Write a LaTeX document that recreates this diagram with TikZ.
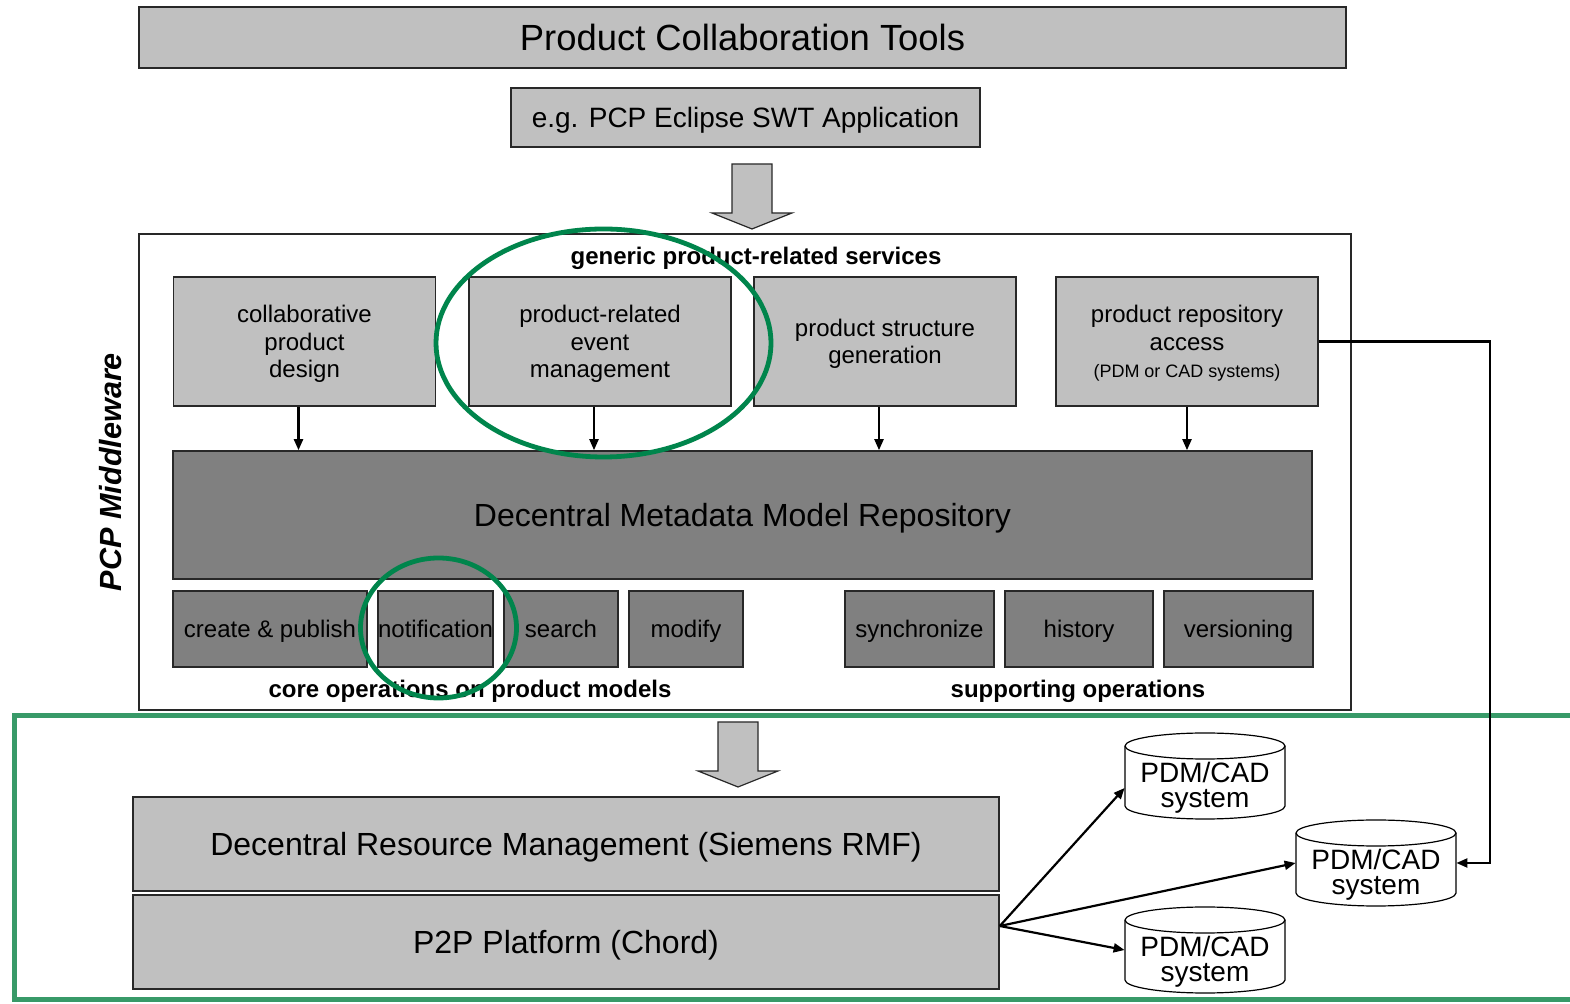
\documentclass[tikz,border=0pt]{standalone}
\usepackage{fontspec}
\setmainfont{Liberation Sans}
\usetikzlibrary{arrows.meta,calc}
\definecolor{lgray}{RGB}{192,192,192}
\definecolor{dgray}{RGB}{128,128,128}
\definecolor{edgecol}{RGB}{40,40,40}
\definecolor{gring}{RGB}{0,133,76}
\definecolor{gframe}{RGB}{56,154,104}
\newcommand{\drawcyl}[2]{%
  \draw[cylstyle] (#1-80,#2-30) -- (#1-80,#2+30)
    arc[start angle=180,end angle=360,x radius=40pt,y radius=6.5pt]
    -- (#1+80,#2-30)
    arc[start angle=0,end angle=180,x radius=40pt,y radius=6.5pt] -- cycle;
  \draw[cylstyle,fill=none] (#1-80,#2-30)
    arc[start angle=180,end angle=360,x radius=40pt,y radius=6.5pt];}
\begin{document}
\begin{tikzpicture}[x=0.5pt,y=-0.5pt,
  box/.style={draw=edgecol, line width=0.8pt, inner sep=0pt, align=center, text=black, text depth=0pt},
  lbox/.style={box, fill=lgray},
  dbox/.style={box, fill=dgray},
  svc/.style={lbox, minimum width=131pt, minimum height=64.5pt, font=\fontsize{12}{13.75}\selectfont},
  opbox/.style={dbox, minimum height=38pt, font=\fontsize{12}{14}\selectfont},
  grp/.style={font=\bfseries\fontsize{12}{14}\selectfont, inner sep=0pt},
  arr/.style={line width=1.1pt, -{Triangle[length=5.5pt,width=4.5pt]}},
  blockarrow/.style={fill=lgray, draw=edgecol, line width=0.6pt, line join=miter},
  cylstyle/.style={fill=white, draw=black, line width=0.6pt},
  cylbox/.style={inner sep=0pt, minimum width=80pt, minimum height=43pt},
  cyltext/.style={align=center, inner sep=0pt, font=\fontsize{14}{12.5}\selectfont},
  ring/.style={draw=gring, line width=2.4pt},
]
\useasboundingbox (0,0) rectangle (1570,1004);
\fill[white] (0,0) rectangle (1570,1004);

% green frame around lower part
\draw[draw=gframe, line width=2.5pt] (14,716) rectangle (1600,1000);

% top boxes
\node[lbox, minimum width=603.5pt, minimum height=30.5pt, font=\fontsize{18.2}{22}\selectfont] (top) at (742.5,37.5) {Product Collaboration Tools};
\node[lbox, minimum width=234.5pt, minimum height=29.5pt, font=\fontsize{14}{17}\selectfont] (ecl) at (745.5,117.5) {e.g. PCP Eclipse SWT Application};

% block arrow 1
\draw[blockarrow] (732,164) -- (772,164) -- (772,213) -- (792,213) -- (752,229) -- (712,213) -- (732,213) -- cycle;

% middleware frame
\node[draw=edgecol, line width=0.7pt, inner sep=0pt, minimum width=606pt, minimum height=238pt] (mwframe) at (745,472) {};
\node[rotate=90, font=\bfseries\itshape\fontsize{15.3}{18}\selectfont, inner sep=0pt] (mwlabel) at (111,472) {PCP Middleware};
\node[grp] (generic) at (756,258) {generic product-related services};

% service boxes
\node[svc] (b1) at (304.5,341.5) {collaborative\\product\\design};
\node[svc] (b2) at (600,341.5) {product-related\\event\\management};
\node[svc] (b3) at (885,341.5) {product structure\\generation};
\node[svc] (b4) at (1187,341.5) {product repository\\access\\{\fontsize{9}{10}\selectfont (PDM or CAD systems)}};

% repository
\node[dbox, minimum width=569.5pt, minimum height=64pt, font=\fontsize{16}{19}\selectfont] (dmmr) at (742.5,515) {Decentral Metadata Model Repository};

\foreach \b/\dx in {b1/-3,b2/-3,b3/-3,b4/0}
  \draw[arr] ([xshift=\dx pt]\b.south) -- ([xshift=\dx pt]\b.south |- dmmr.north);

% operations
\node[opbox, minimum width=97pt] (o1) at (270,629) {create \& publish};
\node[opbox, minimum width=57.5pt] (o2) at (435.5,629) {notification};
\node[opbox, minimum width=57pt] (o3) at (561,629) {search};
\node[opbox, minimum width=57pt] (o4) at (686,629) {modify};
\node[opbox, minimum width=74.5pt] (o5) at (919.5,629) {synchronize};
\node[opbox, minimum width=74pt] (o6) at (1079,629) {history};
\node[opbox, minimum width=74.5pt] (o7) at (1238.5,629) {versioning};
\node[grp] (core) at (470,691) {core operations on product models};
\node[grp] (supp) at (1078,691) {supporting operations};

% block arrow 2
\draw[blockarrow] (718,722) -- (758,722) -- (758,771) -- (778,771) -- (738,787) -- (698,771) -- (718,771) -- cycle;

% lower boxes
\node[lbox, minimum width=433pt, minimum height=47pt, font=\fontsize{16}{19}\selectfont] (rm) at (566,844) {Decentral Resource Management (Siemens RMF)};
\node[lbox, minimum width=433pt, minimum height=47pt, font=\fontsize{16}{19}\selectfont] (p2p) at (566,942) {P2P Platform (Chord)};

% cylinders
\drawcyl{1205}{776}
\drawcyl{1376}{863}
\drawcyl{1205}{950}
\node[cylbox] (c1) at (1205,776) {};
\node[cylbox] (c2) at (1376,863) {};
\node[cylbox] (c3) at (1205,950) {};
\node[cyltext] (c1t) at ([yshift=-6pt]c1.center) {PDM/CAD\\system};
\node[cyltext] (c2t) at ([yshift=-6pt]c2.center) {PDM/CAD\\system};
\node[cyltext] (c3t) at ([yshift=-6pt]c3.center) {PDM/CAD\\system};

% connectors
\coordinate (src) at ([yshift=8pt]p2p.east);
\draw[arr] (src) -- ([yshift=-6pt]c1.west);
\draw[arr] (src) -- (c2.west);
\draw[arr] (src) -- (c3.west);
\coordinate (bend) at (1490,341.5);
\draw[arr] (b4.east) -- (bend) |- (c2.east);

% green rings
\draw[ring] (603.5,343) ellipse [x radius=83.75pt, y radius=57pt];
\draw[ring] (438.5,628) ellipse [x radius=39pt, y radius=35pt];
\end{tikzpicture}
\end{document}
